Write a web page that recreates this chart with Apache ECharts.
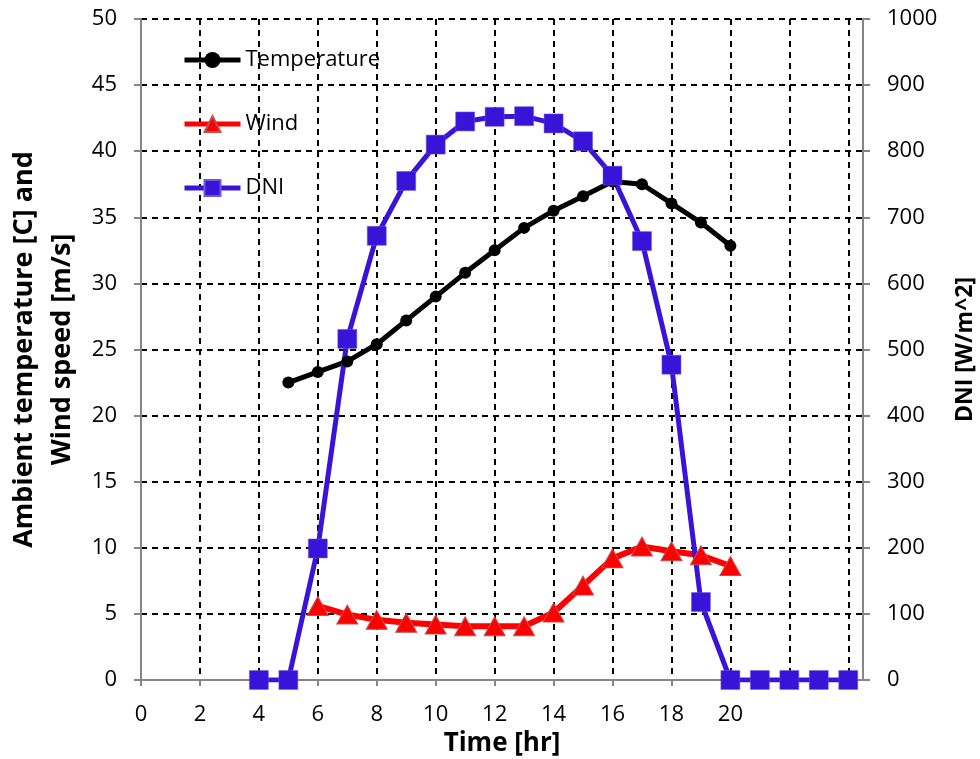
<!DOCTYPE html>
<html>
<head>
<meta charset="utf-8">
<script src="https://cdn.jsdelivr.net/npm/echarts@6/dist/echarts.min.js"></script>
<style>html,body{margin:0;padding:0;background:#fff}#c{width:980px;height:759px}</style>
</head>
<body>
<div id="c"></div>
<script>
var tempHours = [5,6,7,8,9,10,11,12,13,14,15,16,17,18,19,20];
var tempValues = [22.5,23.3,24.1,25.4,27.2,29.0,30.8,32.5,34.2,35.5,36.6,37.7,37.5,36.05,34.6,32.85];
var windHours = [6,7,8,9,10,11,12,13,14,15,16,17,18,19,20];
var windValues = [5.6,4.95,4.55,4.33,4.19,4.07,4.07,4.07,5.1,7.14,9.2,10.1,9.74,9.44,8.62];
var dniHours = [4,5,6,7,8,9,10,11,12,13,14,15,16,17,18,19,20,21,22,23,24];
var dniValues = [0,0,199,516,672,755,810,845,852,853,842,815,763,664,477,118,0,0,0,0,0];

function pairs(xs, ys){ return xs.map(function(x,i){ return [x, ys[i]]; }); }

var font = 'Open Sans';
var axisGray = '#868686';
var chart = echarts.init(document.getElementById('c'));
chart.setOption({
  animation: false,
  textStyle: {fontFamily: font},
  grid: {left: 141, right: 117, top: 19, bottom: 79, containLabel: false, outerBoundsMode: 'none'},
  legend: {
    orient: 'vertical', left: 182, top: 49, padding: 0,
    itemWidth: 56, itemHeight: 20, itemGap: 42,
    lineStyle: {width: 5},
    textStyle: {fontFamily: font, fontSize: 22, color: '#000', lineHeight: 20},
    data: ['Temperature','Wind','DNI']
  },
  xAxis: {
    type: 'value', min: 0, max: 24.5, interval: 2,
    name: 'Time [hr]', nameLocation: 'middle', nameGap: 50,
    nameTextStyle: {fontFamily: font, fontSize: 26, fontWeight: 'bold', color: '#000'},
    axisLine: {show: true, lineStyle: {color: axisGray, width: 2}},
    axisTick: {show: true, length: 6, lineStyle: {color: axisGray, width: 2}},
    axisLabel: {fontFamily: font, fontSize: 22, color: '#000', margin: 24, showMaxLabel: false,
      formatter: function(v){ return v <= 20 ? String(v) : ''; }},
    splitLine: {show: true, lineStyle: {color: '#000', width: 2, type: [6,5]}}
  },
  yAxis: [{
    type: 'value', min: 0, max: 50, interval: 5,
    name: 'Ambient temperature [C] and\nWind speed [m/s]', nameLocation: 'middle', nameGap: 58,
    nameTextStyle: {fontFamily: font, fontSize: 27, fontWeight: 'bold', color: '#000', lineHeight: 38},
    axisLine: {show: true, lineStyle: {color: axisGray, width: 2}},
    axisTick: {show: true, length: 7, lineStyle: {color: axisGray, width: 2}},
    axisLabel: {fontFamily: font, fontSize: 22, color: '#000', margin: 24},
    splitLine: {show: true, lineStyle: {color: '#000', width: 2, type: [6,5]}}
  },{
    type: 'value', min: 0, max: 1000, interval: 100, position: 'right',
    name: 'DNI [W/m^2]', nameLocation: 'middle', nameGap: 91, nameRotate: 90,
    nameTextStyle: {fontFamily: font, fontSize: 23, fontWeight: 'bold', color: '#000'},
    axisLine: {show: true, lineStyle: {color: axisGray, width: 2}},
    axisTick: {show: true, length: 7, lineStyle: {color: axisGray, width: 2}},
    axisLabel: {fontFamily: font, fontSize: 22, color: '#000', margin: 24,
      formatter: function(v){ return String(v); }},
    splitLine: {show: false}
  }],
  series: [{
    name: 'Temperature', type: 'line', yAxisIndex: 0,
    data: pairs(tempHours, tempValues),
    symbol: 'circle', symbolSize: 12,
    lineStyle: {color: '#000', width: 5},
    itemStyle: {color: '#000'}
  },{
    name: 'Wind', type: 'line', yAxisIndex: 0,
    data: pairs(windHours, windValues),
    symbol: 'triangle', symbolSize: [21, 19],
    lineStyle: {color: '#ff0000', width: 6},
    itemStyle: {color: '#ff0000', borderColor: '#c0504d', borderWidth: 1}
  },{
    name: 'DNI', type: 'line', yAxisIndex: 1,
    data: pairs(dniHours, dniValues),
    symbol: 'rect', symbolSize: 19,
    lineStyle: {color: '#3814d9', width: 5},
    itemStyle: {color: '#3814d9', borderColor: '#6a5ae0', borderWidth: 0.5}
  }]
});
</script>
</body>
</html>
